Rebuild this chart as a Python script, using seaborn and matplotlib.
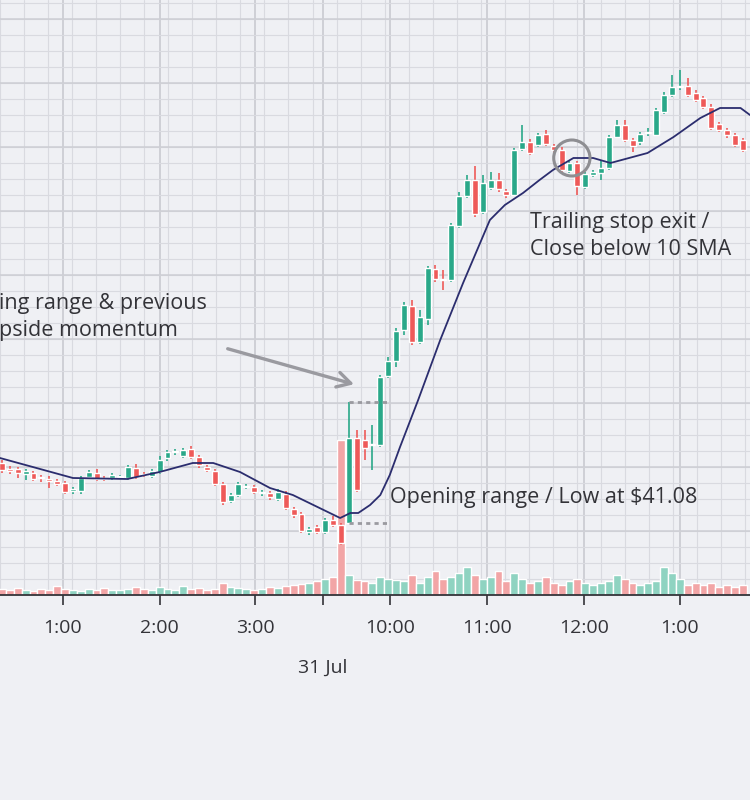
import numpy as np
import pandas as pd
import matplotlib
matplotlib.use("Agg")
import matplotlib.pyplot as plt
from matplotlib.patches import Ellipse
import seaborn as sns

# 5-minute candles (price in chart units; 77 = $41.08 opening-range low)
opens = [137, 131, 131, 126, 127, 123, 121, 119, 117, 109, 109, 123, 127, 122, 122, 123, 122, 132, 126, 124,
         128, 142, 148, 144, 151, 143, 133, 129, 116, 99, 105, 113, 113, 107, 107, 101, 106, 91, 86, 68,
         73, 68, 80, 75, 77, 162, 160, 155, 155, 224, 239, 270, 294, 258, 281, 331, 321, 320, 374, 404,
         420, 388, 412, 420, 409, 405, 451, 458, 455, 466, 454, 450, 429, 437, 413, 425, 427, 432, 463, 475,
         460, 458, 467, 465, 488, 505, 513, 514, 507, 502, 493, 476, 470, 465, 460]
closes = [130, 129, 127, 129, 121, 122, 119, 116, 108, 111, 122, 128, 121, 121, 125, 124, 133, 123, 125, 129,
          140, 148, 148.5, 150, 143, 135, 130, 116, 98, 105, 116, 113.5, 108, 107.5, 103, 108, 92, 85, 69, 71,
          68, 80, 75, 57, 162, 110, 152, 155.5, 223, 239, 269, 295, 258, 283, 332, 321, 320, 375, 404, 420,
          386, 417, 420, 411, 405, 450, 458, 447, 465, 456, 450, 430, 437, 414, 426, 428, 432, 463, 475, 460,
          454, 466, 468, 490, 505, 513, 514, 505, 500, 493, 472, 470, 465, 455, 450]
highs = [140, 134, 133, 131, 129, 125, 124, 121, 119, 113, 124, 130, 131, 124, 127, 125, 135, 136, 128, 131,
         144, 150, 151, 152, 154, 145, 135, 131, 118, 107, 118, 116, 115, 110, 109, 111, 109, 93, 88, 73,
         75, 82, 84, 77, 198, 170, 170, 175, 225, 243, 272, 298, 300, 290, 334, 335, 330, 377, 408, 425,
         434, 425, 428, 427, 411, 452, 475, 461, 467, 470, 456, 453, 440, 439, 428, 430, 440, 465, 480, 480,
         462, 468, 472, 492, 508, 525, 530, 522, 510, 504, 496, 478, 472, 467, 462]
lows = [127, 126, 122, 120, 119, 118, 112, 114, 106, 106, 106, 121, 119, 119, 120, 121, 120, 121, 123, 122,
        126, 139, 145, 142, 141, 132, 128, 114, 95, 97, 103, 111, 106, 104, 100, 99, 90, 82, 67, 65,
        66, 66, 73, 55, 77, 108, 140, 130, 153, 222, 233, 265, 255, 256, 275, 318, 310, 318, 372, 402,
        383, 386, 410, 408, 402, 404, 449, 445, 453, 454, 448, 428, 427, 405, 411, 423, 420, 430, 462, 458,
        448, 455, 464, 464, 486, 503, 510, 503, 498, 491, 470, 468, 462, 453, 448]
volume = [6, 5, 7, 5, 4, 6, 5, 9, 6, 5, 4, 6, 5, 7, 5, 5, 6, 8, 6, 5,
          8, 6, 5, 9, 6, 7, 5, 6, 12, 8, 7, 6, 5, 6, 8, 7, 9, 10, 11, 12,
          14, 16, 18, 155, 20, 15, 14, 12, 18, 16, 15, 14, 20, 12, 18, 24, 16, 18, 22, 28,
          20, 16, 18, 24, 14, 22, 16, 12, 14, 18, 12, 10, 14, 16, 12, 10, 12, 14, 20, 16,
          12, 10, 12, 14, 28, 22, 16, 10, 12, 10, 12, 8, 10, 8, 10]

# 10 SMA (candle index, value)
sma_idx = [-0.25, 9, 15.9, 20, 24.2, 26.8, 30.2, 34, 36.9, 42.9, 44.2, 45.2, 46.7, 48, 49.2, 50.5,
           52.8, 55.6, 58.5, 61.9, 63.8, 66.1, 68.2, 69.9, 72.5, 75, 77.2, 81.9, 85.2, 88.6, 91.1, 93.7, 94.9]
sma_val = [142, 122, 121, 128, 137, 137, 128, 112, 105, 82, 87, 87, 95, 105, 125, 153,
           200, 260, 317, 380, 395, 407, 420, 430, 442, 442, 437, 447, 463, 482, 492, 492, 485]

tick_pos = [7.7, 20, 32.1, 49.2, 61.5, 73.9, 86]
tick_labels = ["1:00", "2:00", "3:00", "10:00", "11:00", "12:00", "1:00"]
day_pos = 40.7
day_label = "31 Jul"

GREEN = "#2aa889"
RED = "#ee5a59"
BG = "#eff0f4"
INK = "#333338"

sns.set_theme(style="white")
plt.rcParams["font.family"] = ["Open Sans", "DejaVu Sans"]

fig = plt.figure(figsize=(7.5, 8), dpi=100)
fig.patch.set_facecolor(BG)
ax = fig.add_axes([0, 1 - 595 / 800, 1, 595 / 800])
ax.set_facecolor(BG)
ax.set_xlim(-0.25, 94.9)
ax.set_ylim(5, 600)

# grid
for gx in np.arange(-0.25, 95, 3.05):
    ax.axvline(gx, color="#d9dae0", lw=0.8, zorder=0)
for gx in tick_pos + [day_pos]:
    ax.axvline(gx, color="#c9cad0", lw=1.2, zorder=0)
for gy in np.arange(5, 600, 16):
    ax.axhline(gy, color="#d9dae0", lw=0.8, zorder=0)
for gy in np.arange(5, 600, 64):
    ax.axhline(gy, color="#cdced4", lw=1.1, zorder=0)

df = pd.DataFrame({"i": np.arange(len(opens)), "o": opens, "c": closes,
                   "h": highs, "l": lows, "v": volume})
up = df["c"] >= df["o"]
colors = np.where(up, GREEN, RED)
vcolors = np.where(up, "#8fd3c1", "#f2a5a6")

# volume
ax.bar(df["i"], df["v"], bottom=5, width=1.0, color=vcolors, zorder=1)

# candles
ax.vlines(df["i"], df["l"], df["h"], colors=colors, lw=1.2, zorder=2)
body_lo = np.minimum(df["o"], df["c"])
body_h = np.maximum(np.abs(df["c"] - df["o"]), 1.5)
ax.bar(df["i"], body_h, bottom=body_lo, width=0.76, color=colors, zorder=3)

sma = pd.DataFrame({"i": sma_idx, "v": sma_val})
sns.lineplot(data=sma, x="i", y="v", ax=ax, color="#2b2d6e", lw=1.3, zorder=4)

# opening range markers
ax.hlines([198, 77], 44, 49.2, colors="#9a9aa0", lw=2, linestyles=(0, (1.5, 1.5)), zorder=4)
ax.add_patch(Ellipse((72.3, 442), 4.6, 36, fill=False, ec="#8e8e92", lw=2.2, zorder=5))

txt = dict(color=INK, fontsize=15.5, clip_on=True, linespacing=1.4)
ax.text(-0.4, 283, "ing range & previous\npside momentum", va="center", ha="left", **txt)
ax.text(49.2, 102, "Opening range / Low at $41.08", va="center", ha="left", **txt)
ax.text(67, 364, "Trailing stop exit /\nClose below 10 SMA", va="center", ha="left", **txt)
ax.annotate("", xy=(45, 215), xytext=(28.3, 252),
            arrowprops=dict(arrowstyle="->,head_length=0.8,head_width=0.45", color="#9a9aa0",
                            lw=2.4))

ax.set_xlabel("")
ax.set_ylabel("")
ax.set_yticks([])
ax.set_xticks(tick_pos + [day_pos])
ax.set_xticklabels(tick_labels + [""])
ax.tick_params(axis="x", length=7, width=1.2, color=INK, labelsize=14,
               labelcolor=INK, pad=10, bottom=True)
ax.text(day_pos, -68, day_label, ha="center", va="center", color=INK, fontsize=14,
        clip_on=False)
for s in ["top", "left", "right"]:
    ax.spines[s].set_visible(False)
ax.spines["bottom"].set_color(INK)
ax.spines["bottom"].set_linewidth(1.3)

plt.savefig("out.png", dpi=100, facecolor=BG)
plt.close()
